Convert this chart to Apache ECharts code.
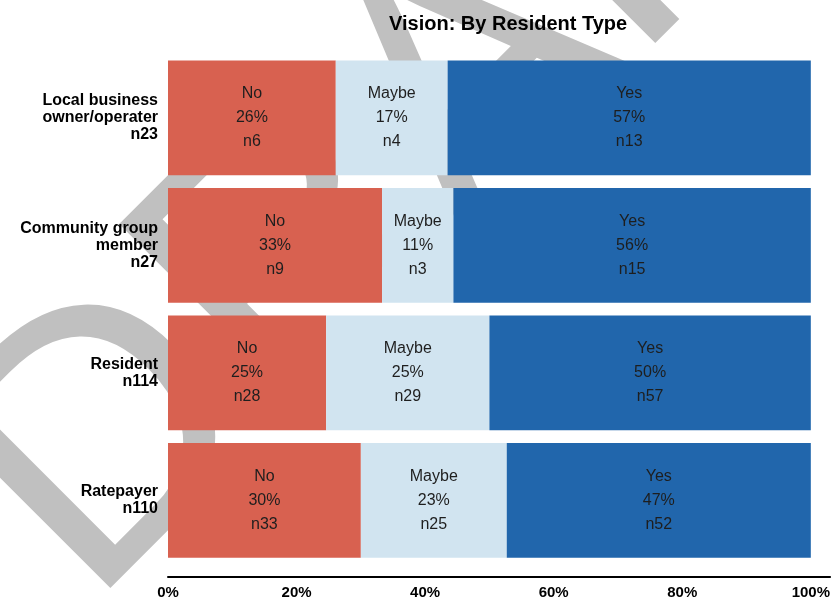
<!DOCTYPE html>
<html>
<head>
<meta charset="utf-8">
<script src="https://cdn.jsdelivr.net/npm/echarts@6/dist/echarts.min.js"></script>
<style>
  html, body { margin: 0; padding: 0; background: #fff; }
  #chart-container { width: 833px; height: 603px; }
</style>
</head>
<body>
<div id="chart-container"></div>
<script>
// categories, top to bottom
const categories = [
    'Local business\nowner/operater\nn23',
    'Community group\nmember\nn27',
    'Resident\nn114',
    'Ratepayer\nn110'
];

// share of each row (%)
const noShare = [26.1, 33.3, 24.6, 30.0];
const maybeShare = [17.4, 11.1, 25.4, 22.7];
const yesShare = [56.5, 55.6, 50.0, 47.3];

// printed percentages and counts
const noPct = [26, 33, 25, 30];
const maybePct = [17, 11, 25, 23];
const yesPct = [57, 56, 50, 47];
const noN = [6, 9, 28, 33];
const maybeN = [4, 3, 29, 25];
const yesN = [13, 15, 57, 52];

const xTicks = [0, 20, 40, 60, 80, 100];

const chartContainer = document.getElementById('chart-container');
const myChart = echarts.init(chartContainer);

const makeSeries = (name, share, pct, counts, color) => ({
    name: name,
    type: 'bar',
    stack: 'total',
    barCategoryGap: '10%',
    itemStyle: { color: color },
    label: {
        show: true,
        position: 'inside',
        color: '#1e1e1e',
        fontFamily: 'Liberation Sans',
        fontSize: 16,
        lineHeight: 24,
        formatter: (p) => name + '\n' + pct[p.dataIndex] + '%\nn' + counts[p.dataIndex]
    },
    data: share
});

const options = {
    backgroundColor: '#fff',
    animation: false,
    title: {
        text: 'Vision: By Resident Type',
        left: 384,
        top: 9,
        textStyle: {
            fontFamily: 'Liberation Sans',
            fontWeight: 'bold',
            fontSize: 20,
            color: '#000'
        }
    },
    // DRAFT watermark behind the chart
    graphic: [{
        type: 'text',
        z: -10,
        x: 18,
        y: 538,
        rotation: Math.PI / 4,
        silent: true,
        style: {
            text: 'DRAFT',
            font: '365px "Liberation Sans"',
            fill: '#c0c0c0',
            align: 'left',
            verticalAlign: 'middle'
        }
    }],
    grid: {
        left: 168,
        right: 20,
        top: 54,
        bottom: 39
    },
    xAxis: {
        type: 'value',
        min: 0,
        max: 100,
        interval: 20,
        offset: 13,
        axisLine: {
            show: true,
            lineStyle: { color: '#000', width: 2 },
            symbol: ['none', 'rect'],
            symbolSize: [2, 40]
        },
        axisTick: { show: false },
        splitLine: { show: false },
        axisLabel: {
            margin: 8,
            color: '#000',
            fontFamily: 'Liberation Sans',
            fontWeight: 'bold',
            fontSize: 15,
            formatter: (v) => xTicks.includes(v) ? v + '%' : ''
        }
    },
    yAxis: {
        type: 'category',
        inverse: true,
        data: categories,
        axisLine: { show: false },
        axisTick: { show: false },
        axisLabel: {
            margin: 10,
            color: '#000',
            fontFamily: 'Liberation Sans',
            fontWeight: 'bold',
            fontSize: 16,
            lineHeight: 17,
            align: 'right'
        }
    },
    series: [
        makeSeries('No', noShare, noPct, noN, '#d86150'),
        makeSeries('Maybe', maybeShare, maybePct, maybeN, '#d1e4f0'),
        makeSeries('Yes', yesShare, yesPct, yesN, '#2166ac')
    ]
};

myChart.setOption(options);

window.addEventListener('resize', function () {
    myChart.resize();
});
</script>
</body>
</html>
